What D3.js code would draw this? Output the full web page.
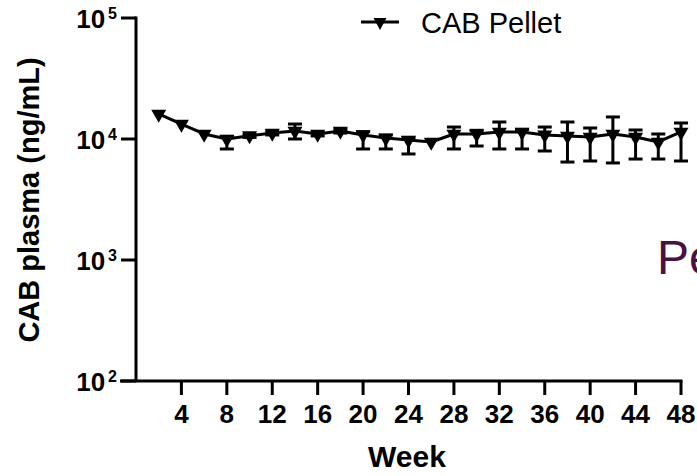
<!DOCTYPE html>
<html>
<head>
<meta charset="utf-8">
<script src="https://cdn.jsdelivr.net/npm/d3@7"></script>
<style>
  body { margin: 0; background: #fff; }
  text { font-family: "Liberation Sans", Arial, sans-serif; }
</style>
</head>
<body>
<div id="chart"></div>
<script>
// weeks on study
const weeks = [2, 4, 6, 8, 10, 12, 14, 16, 18, 20, 22, 24, 26, 28, 30, 32, 34, 36, 38, 40, 42, 44, 46, 48];
// mean CAB plasma concentration (ng/mL)
const meanConc = [16100, 13300, 11000, 10000, 10650, 11200, 11650, 11000, 11650, 10800, 10200, 9800,
                  9450, 11000, 11000, 11430, 11430, 10800, 10590, 10390, 11000, 10390, 9450, 11430];
// error bar ends
const barLow = [16100, 13300, 11000, 8270, 10300, 10800, 10000, 10600, 11200, 8270, 8270, 7520,
                9450, 8270, 8750, 8270, 8270, 7960, 6450, 6580, 6340, 6830, 6830, 6580];
const barHigh = [16100, 13300, 11000, 10500, 10900, 11500, 13300, 11300, 12000, 11500, 10800, 10300,
                 9450, 12560, 11800, 13820, 12000, 12560, 13820, 12330, 15210, 11870, 11000, 13560];
const xTicks = [4, 8, 12, 16, 20, 24, 28, 32, 36, 40, 44, 48];
const yTicks = [100, 1000, 10000, 100000];
const seriesName = "CAB Pellet";

const W = 697, H = 476;
const svg = d3.select("#chart").append("svg").attr("width", W).attr("height", H);

const x = d3.scaleLinear().domain([0, 48]).range([136, 681]);
const y = d3.scaleLog().domain([100, 100000]).range([381, 18]);

const points = weeks.map((w, i) => ({ w: w, m: meanConc[i], lo: barLow[i], hi: barHigh[i] }));

// axes lines
svg.append("line").attr("x1", 120).attr("x2", x(48) + 1.5).attr("y1", 381).attr("y2", 381)
   .attr("stroke", "#000").attr("stroke-width", 3);
svg.append("line").attr("x1", 136).attr("x2", 136).attr("y1", 16.5).attr("y2", 381)
   .attr("stroke", "#000").attr("stroke-width", 3);

// x ticks
const xg = svg.append("g");
xg.selectAll("line").data(xTicks).enter().append("line")
  .attr("x1", d => x(d)).attr("x2", d => x(d)).attr("y1", 381).attr("y2", 395)
  .attr("stroke", "#000").attr("stroke-width", 3);
xg.selectAll("text").data(xTicks).enter().append("text")
  .attr("x", d => x(d)).attr("y", 423).attr("text-anchor", "middle")
  .attr("font-size", 26).attr("font-weight", "bold").text(d => d);

// y ticks
const yg = svg.append("g");
yg.selectAll("line").data(yTicks).enter().append("line")
  .attr("x1", 121).attr("x2", 136).attr("y1", d => y(d)).attr("y2", d => y(d))
  .attr("stroke", "#000").attr("stroke-width", 3);
const yl = yg.selectAll("text").data(yTicks).enter().append("text")
  .attr("x", 117).attr("y", d => y(d) + 10).attr("text-anchor", "end")
  .attr("font-size", 26).attr("font-weight", "bold");
yl.append("tspan").text("10");
yl.append("tspan").attr("dx", 3).attr("dy", -9).attr("font-size", 16).text(d => Math.round(Math.log10(d)));

// axis titles
svg.append("text").attr("x", 407).attr("y", 467).attr("text-anchor", "middle")
   .attr("font-size", 30).attr("font-weight", "bold").text("Week");
svg.append("text").attr("transform", "translate(39,200) rotate(-90)").attr("text-anchor", "middle")
   .attr("font-size", 29).attr("font-weight", "bold").text("CAB plasma (ng/mL)");

// connecting line
const line = d3.line().x(d => x(d.w)).y(d => y(d.m));
svg.append("path").datum(points).attr("d", line)
   .attr("fill", "none").attr("stroke", "#000").attr("stroke-width", 3).attr("stroke-linejoin", "round");

// error bars
const eb = svg.append("g").selectAll("g").data(points.filter(d => d.hi > d.lo)).enter().append("g");
eb.append("line").attr("x1", d => x(d.w)).attr("x2", d => x(d.w))
  .attr("y1", d => y(d.hi)).attr("y2", d => y(d.lo)).attr("stroke", "#000").attr("stroke-width", 3);
eb.append("line").attr("x1", d => x(d.w) - 7).attr("x2", d => x(d.w) + 7)
  .attr("y1", d => y(d.hi)).attr("y2", d => y(d.hi)).attr("stroke", "#000").attr("stroke-width", 3);
eb.append("line").attr("x1", d => x(d.w) - 7).attr("x2", d => x(d.w) + 7)
  .attr("y1", d => y(d.lo)).attr("y2", d => y(d.lo)).attr("stroke", "#000").attr("stroke-width", 3);

// down triangles, centroid on the data point
function tri(cx, cy, w, h) {
  return "M" + (cx - w / 2) + "," + (cy - h / 3) + "L" + (cx + w / 2) + "," + (cy - h / 3) +
         "L" + cx + "," + (cy + 2 * h / 3) + "Z";
}
svg.append("g").selectAll("path").data(points).enter().append("path")
   .attr("d", d => tri(x(d.w), y(d.m), 15, 13)).attr("fill", "#000");

// legend
svg.append("line").attr("x1", 361).attr("x2", 399).attr("y1", 22).attr("y2", 22)
   .attr("stroke", "#000").attr("stroke-width", 3);
svg.append("path").attr("d", tri(380, 22, 13, 12)).attr("fill", "#000");
svg.append("text").attr("x", 421).attr("y", 33).attr("font-size", 29).text(seriesName);

// stray overlay text from the source slide, clipped by the right edge as in the original
svg.append("text").attr("x", 657).attr("y", 274).attr("font-size", 48)
   .attr("font-family", "'Open Sans', sans-serif").attr("fill", "#4a1040").text("Pe");
</script>
</body>
</html>
